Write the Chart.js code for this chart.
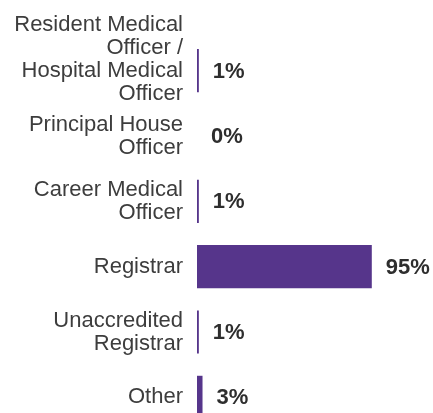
<!DOCTYPE html>
<html>
<head>
<meta charset="utf-8">
<script src="https://cdn.jsdelivr.net/npm/chart.js@4"></script>
<style>
    html, body { margin: 0; padding: 0; background: #fff; overflow: hidden; }
</style>
</head>
<body>
<canvas id="roleChart" width="433" height="430"></canvas>
<script>
// labels (last one of the first row padded so the block sits a bit higher, like the original)
const categories = [
    ['Resident Medical', 'Officer /', 'Hospital Medical', 'Officer', ''],
    ['Principal House', 'Officer'],
    ['Career Medical', 'Officer'],
    'Registrar',
    ['Unaccredited', 'Registrar'],
    'Other'
];
const percentages = [1, 0, 1, 95, 1, 3];

const barColor = '#56358b';

// draws the bold "xx%" next to each bar
const valueLabels = {
    id: 'valueLabels',
    afterDatasetsDraw(chart) {
        const ctx = chart.ctx;
        const meta = chart.getDatasetMeta(0);
        ctx.save();
        ctx.font = 'bold 22px "Liberation Sans", Arial, sans-serif';
        ctx.fillStyle = '#2e2e2e';
        ctx.textAlign = 'left';
        ctx.textBaseline = 'middle';
        meta.data.forEach((bar, i) => {
            ctx.fillText(percentages[i] + '%', bar.x + 14, bar.y + 1);
        });
        ctx.restore();
    }
};

const ctx = document.getElementById('roleChart').getContext('2d');
new Chart(ctx, {
    type: 'bar',
    data: {
        labels: categories,
        datasets: [{
            label: 'Role',
            data: percentages,
            backgroundColor: barColor,
            borderWidth: 0,
            categoryPercentage: 1,
            barPercentage: 0.66
        }]
    },
    options: {
        indexAxis: 'y',
        responsive: false,
        animation: false,
        layout: {
            padding: {top: 38, right: 52, bottom: 0, left: 0}
        },
        plugins: {
            legend: {display: false},
            tooltip: {enabled: false}
        },
        scales: {
            x: {
                display: false,
                min: 0,
                max: 100
            },
            y: {
                grid: {display: false, drawTicks: false},
                border: {display: false},
                ticks: {
                    autoSkip: false,
                    padding: 14,
                    color: '#3d3d3d',
                    font: {family: '"Liberation Sans", Arial, sans-serif', size: 22, lineHeight: 1.05}
                },
                afterFit(scale) {
                    scale.width = 197;
                    scale.paddingTop = 0;
                    scale.paddingBottom = 0;
                }
            }
        }
    },
    plugins: [valueLabels]
});
</script>
</body>
</html>
